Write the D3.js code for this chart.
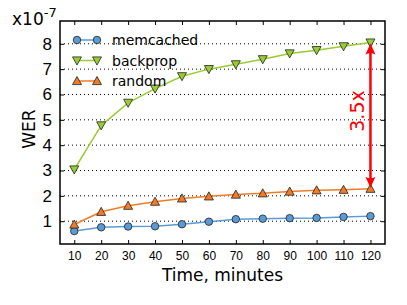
<!DOCTYPE html>
<meta charset="utf-8">
<head>
  <style>
    body { margin: 0; background: #fff; }
    svg { font-family: "DejaVu Sans", sans-serif; }
    .grid line { stroke: #000; stroke-dasharray: 1,3; stroke-width: 1; }
    .axis path, .axis line { stroke: #000; }
  </style>
  <script src="https://cdnjs.cloudflare.com/ajax/libs/d3/7.8.5/d3.min.js"></script>
</head>
<body>
<script>
  var minutes   = [10, 20, 30, 40, 50, 60, 70, 80, 90, 100, 110, 120];
  var memcached = [0.61, 0.76, 0.79, 0.80, 0.88, 0.98, 1.08, 1.10, 1.12, 1.13, 1.17, 1.20];
  var backprop  = [3.04, 4.78, 5.67, 6.23, 6.72, 7.00, 7.19, 7.39, 7.62, 7.75, 7.90, 8.05];
  var random    = [0.87, 1.37, 1.61, 1.77, 1.90, 1.98, 2.05, 2.10, 2.17, 2.22, 2.24, 2.28];
  var yTicks    = [1, 2, 3, 4, 5, 6, 7, 8];
  var seriesNames = ["memcached", "backprop", "random"];

  var width = 407, height = 305
    , pLeft = 60, pRight = 385, pTop = 21, pBottom = 244;

  var svg = d3.select("body").append("svg")
      .attr("width", width)
      .attr("height", height);

  var x = d3.scaleLinear().domain([4.7, 125.4]).range([pLeft, pRight]);
  var y = d3.scaleLinear().domain([0.1, 8.9]).range([pBottom, pTop]);

  // dotted horizontal grid
  svg.append("g").attr("class", "grid")
    .selectAll("line").data(yTicks).enter().append("line")
      .attr("x1", pLeft).attr("x2", pRight)
      .attr("y1", function(d) { return y(d); })
      .attr("y2", function(d) { return y(d); });

  // axes, ticks pointing inside
  svg.append("g").attr("class", "axis")
      .attr("transform", "translate(0," + pBottom + ")")
      .call(d3.axisBottom(x).tickValues(minutes).tickSizeInner(-4).tickSizeOuter(0).tickPadding(7))
      .call(function(g) { g.select(".domain").remove(); g.selectAll("text").attr("font-size", 12).attr("fill", "#000"); });
  svg.append("g").attr("class", "axis")
      .attr("transform", "translate(0," + pTop + ")")
      .call(d3.axisTop(x).tickValues(minutes).tickSizeInner(-4).tickSizeOuter(0).tickFormat(""))
      .call(function(g) { g.select(".domain").remove(); });
  svg.append("g").attr("class", "axis")
      .attr("transform", "translate(" + pLeft + ",0)")
      .call(d3.axisLeft(y).tickValues(yTicks).tickSizeInner(-4).tickSizeOuter(0).tickPadding(8))
      .call(function(g) { g.select(".domain").remove(); g.selectAll("text").attr("font-size", 17).attr("fill", "#000"); });
  svg.append("g").attr("class", "axis")
      .attr("transform", "translate(" + pRight + ",0)")
      .call(d3.axisRight(y).tickValues(yTicks).tickSizeInner(-4).tickSizeOuter(0).tickFormat(""))
      .call(function(g) { g.select(".domain").remove(); });

  svg.append("rect")
      .attr("x", pLeft).attr("y", pTop)
      .attr("width", pRight - pLeft).attr("height", pBottom - pTop)
      .attr("fill", "none").attr("stroke", "#000").attr("stroke-width", 1.5);

  // multiplier label
  var ml = svg.append("text").attr("x", 12).attr("y", 25).attr("font-size", 17);
  ml.append("tspan").text("x10");
  ml.append("tspan").attr("dy", -8).attr("font-size", 13).text("-7");

  svg.append("text")
      .attr("transform", "translate(35,129)rotate(-90)")
      .attr("text-anchor", "middle").attr("font-size", 17).text("WER");
  svg.append("text")
      .attr("x", (pLeft + pRight) / 2).attr("y", 281)
      .attr("text-anchor", "middle").attr("font-size", 17).text("Time, minutes");

  var styles = {
    memcached: { data: memcached, color: "#5b9bd5", marker: "circle" },
    backprop:  { data: backprop,  color: "#99cc33", marker: "down" },
    random:    { data: random,    color: "#f07c28", marker: "up" }
  };

  function markerPath(type) {
    if (type === "circle") return d3.symbol().type(d3.symbolCircle).size(44)();
    var s = 4.5;
    if (type === "up") return "M0," + (-s) + "L" + s + "," + (s * 0.8) + "L" + (-s) + "," + (s * 0.8) + "Z";
    return "M0," + s + "L" + s + "," + (-s * 0.8) + "L" + (-s) + "," + (-s * 0.8) + "Z";
  }

  var line = d3.line()
      .x(function(d, i) { return x(minutes[i]); })
      .y(function(d) { return y(d); });

  seriesNames.forEach(function(name) {
    var st = styles[name];
    svg.append("path").datum(st.data)
        .attr("d", line).attr("fill", "none")
        .attr("stroke", st.color).attr("stroke-width", 1.5);
    svg.append("g").selectAll("path").data(st.data).enter().append("path")
        .attr("d", markerPath(st.marker))
        .attr("transform", function(d, i) { return "translate(" + x(minutes[i]) + "," + y(d) + ")"; })
        .attr("fill", st.color).attr("stroke", "#222").attr("stroke-width", 0.8);
  });

  // legend (no frame)
  var legend = svg.append("g");
  seriesNames.forEach(function(name, i) {
    var st = styles[name], ly = 40 + i * 20.5;
    legend.append("line").attr("x1", 77).attr("x2", 97).attr("y1", ly).attr("y2", ly)
        .attr("stroke", st.color).attr("stroke-width", 1.5);
    [77, 97].forEach(function(mx) {
      legend.append("path").attr("d", markerPath(st.marker))
          .attr("transform", "translate(" + mx + "," + ly + ")")
          .attr("fill", st.color).attr("stroke", "#222").attr("stroke-width", 0.8);
    });
    legend.append("text").attr("x", 112).attr("y", ly + 5).attr("font-size", 14).text(name);
  });

  // 3.5x arrow between backprop and random at the last point
  var ax = x(minutes[minutes.length - 1]);
  var yA = y(backprop[backprop.length - 1]) + 1, yB = y(random[random.length - 1]) - 1;
  svg.append("line").attr("x1", ax).attr("x2", ax).attr("y1", yA + 8).attr("y2", yB - 8)
      .attr("stroke", "red").attr("stroke-width", 2.5);
  svg.append("path").attr("d", "M" + ax + "," + yA + "l-5,11q5,-3 10,0z").attr("fill", "red");
  svg.append("path").attr("d", "M" + ax + "," + yB + "l-5,-11q5,3 10,0z").attr("fill", "red");
  svg.append("text")
      .attr("transform", "translate(364,111)rotate(-90)")
      .attr("text-anchor", "middle").attr("fill", "red").attr("font-size", 19)
      .text("3.5x");
</script>
</body>
